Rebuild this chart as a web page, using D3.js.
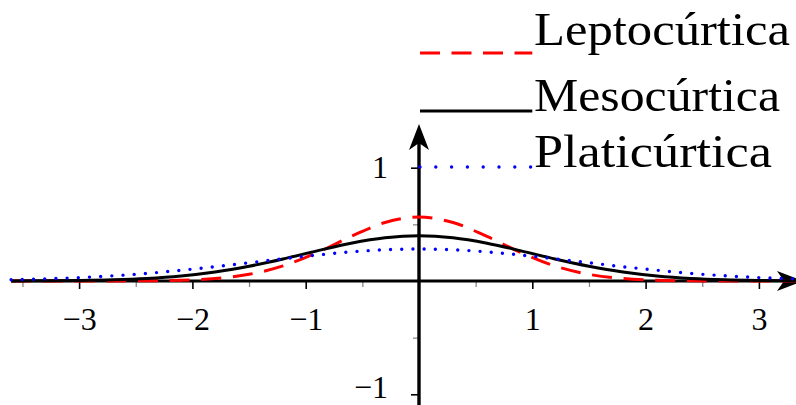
<!DOCTYPE html>
<html>
<head>
<meta charset="utf-8">
<script src="https://cdn.jsdelivr.net/npm/d3@7/dist/d3.min.js"></script>
<style>
  html, body { margin: 0; padding: 0; background: #fff; }
  svg { display: block; }
  text { font-family: "Liberation Serif", "DejaVu Serif", serif; fill: #000; }
</style>
</head>
<body>
<svg id="chart" width="796" height="405"></svg>
<script>
// Sample abscissas shared by the three density curves
const xs = [-3.6, -3.3, -3.0, -2.7, -2.4, -2.1, -1.8, -1.5, -1.2, -0.9, -0.6, -0.3,
            0, 0.3, 0.6, 0.9, 1.2, 1.5, 1.8, 2.1, 2.4, 2.7, 3.0, 3.3, 3.6];

// Density values for each curve at the abscissas above
const lepto = [0, 0, 0.0001, 0.0004, 0.0018, 0.0068, 0.022, 0.059, 0.133, 0.251, 0.393, 0.516,
               0.564, 0.516, 0.393, 0.251, 0.133, 0.059, 0.022, 0.0068, 0.0018, 0.0004, 0.0001, 0, 0];
const meso  = [0.0006, 0.0017, 0.0044, 0.010, 0.022, 0.044, 0.079, 0.130, 0.194, 0.266, 0.333, 0.381,
               0.399, 0.381, 0.333, 0.266, 0.194, 0.130, 0.079, 0.044, 0.022, 0.010, 0.0044, 0.0017, 0.0006];
const plati = [0.011, 0.019, 0.030, 0.046, 0.067, 0.095, 0.126, 0.161, 0.196, 0.229, 0.257, 0.276,
               0.282, 0.276, 0.257, 0.229, 0.196, 0.161, 0.126, 0.095, 0.067, 0.046, 0.030, 0.019, 0.011];

const seriesNames = ["Leptocúrtica", "Mesocúrtica", "Platicúrtica"];

// Tick values
const xMajor = [-3, -2, -1, 1, 2, 3];
const xMinor = [-3.5, -2.5, -1.5, -0.5, 0.5, 1.5, 2.5];
const yMajor = [-1, 1];
const yMinor = [-0.5, 0.5];

const svg = d3.select("#chart");
const unit = 113.3;
const x = d3.scaleLinear().domain([-3.6, 3.6]).range([419 - 3.6 * unit, 419 + 3.6 * unit]);
const y = d3.scaleLinear().domain([-1.1, 1.4]).range([281 + 1.1 * unit, 281 - 1.4 * unit]);

const fmt = v => (v < 0 ? "\u2212" : "") + Math.abs(v);

// Minor ticks (grey, short)
svg.append("g").attr("transform", `translate(0,${y(0)})`)
  .call(d3.axisBottom(x).tickValues(xMinor).tickSize(6).tickFormat(""))
  .call(g => g.select(".domain").remove())
  .call(g => g.selectAll("line").attr("stroke", "#888").attr("stroke-width", 1.3));
svg.append("g").attr("transform", `translate(${x(0)},0)`)
  .call(d3.axisLeft(y).tickValues(yMinor).tickSize(6).tickFormat(""))
  .call(g => g.select(".domain").remove())
  .call(g => g.selectAll("line").attr("stroke", "#888").attr("stroke-width", 1.3));

// Major ticks with labels
svg.append("g").attr("transform", `translate(0,${y(0)})`)
  .call(d3.axisBottom(x).tickValues(xMajor).tickSize(8).tickPadding(0).tickFormat(fmt))
  .call(g => g.select(".domain").remove())
  .call(g => g.selectAll("line").attr("stroke", "#000").attr("stroke-width", 1.6))
  .call(g => g.selectAll("text").attr("y", 49).attr("dy", 0)
      .style("font-size", "32px").style("font-family", "Liberation Serif, serif"));
svg.append("g").attr("transform", `translate(${x(0)},0)`)
  .call(d3.axisLeft(y).tickValues(yMajor).tickSize(8).tickPadding(0).tickFormat(fmt))
  .call(g => g.select(".domain").remove())
  .call(g => g.selectAll("line").attr("stroke", "#000").attr("stroke-width", 1.6))
  // the lowest label sits against the bottom edge, so keep it just inside
  .call(g => g.selectAll("text").attr("x", -31).attr("dy", d => d < 0 ? "0.1em" : "0.3em")
      .style("font-size", "32px").style("font-family", "Liberation Serif, serif"));

// Main axes with arrow heads
svg.append("line")
  .attr("x1", x(-3.6)).attr("x2", 790).attr("y1", y(0)).attr("y2", y(0))
  .attr("stroke", "#000").attr("stroke-width", 3.2);
svg.append("line")
  .attr("x1", x(0)).attr("x2", x(0)).attr("y1", y(-1.1)).attr("y2", 140)
  .attr("stroke", "#000").attr("stroke-width", 3.4);

function arrowHead(tipX, tipY, dir) {
  // dir: "right" or "up"; stealth-like head with a concave back
  const L = 26, W = 10, N = 7;
  let pts;
  if (dir === "right") {
    pts = [[tipX, tipY], [tipX - L, tipY - W], [tipX - L + N, tipY], [tipX - L, tipY + W]];
  } else {
    pts = [[tipX, tipY], [tipX + W, tipY + L], [tipX, tipY + L - N], [tipX - W, tipY + L]];
  }
  svg.append("path")
    .attr("d", "M" + pts.map(p => p.join(",")).join("L") + "Z")
    .attr("fill", "#000");
}
arrowHead(803, y(0), "right");
arrowHead(x(0), 124, "up");

// Density curves
const series = [
  { name: seriesNames[0], values: lepto, color: "#ff0000", dash: "20 11.7", cap: "butt", width: 3, legendDash: "20 11.5" },
  { name: seriesNames[1], values: meso,  color: "#000000", dash: null, cap: "butt", width: 3, legendDash: null },
  { name: seriesNames[2], values: plati, color: "#0000ff", dash: "0 11.2", cap: "round", width: 3.4, legendDash: "0 15.8" }
];

const line = d3.line()
  .x((d, i) => x(xs[i]))
  .y(d => y(d))
  .curve(d3.curveCatmullRom.alpha(0.5));

series.forEach(s => {
  svg.append("path")
    .datum(s.values)
    .attr("d", line)
    .attr("fill", "none")
    .attr("stroke", s.color)
    .attr("stroke-width", s.width)
    .attr("stroke-linecap", s.cap)
    .attr("stroke-dasharray", s.dash);
});

// Legend
const legendY = [53, 111, 167];
const legendW = [256, 246, 238];
series.forEach((s, i) => {
  svg.append("line")
    .attr("x1", x(0) + 1).attr("x2", x(1))
    .attr("y1", legendY[i]).attr("y2", legendY[i])
    .attr("stroke", s.color)
    .attr("stroke-width", s.width)
    .attr("stroke-linecap", s.cap)
    .attr("stroke-dasharray", s.legendDash);
  svg.append("text")
    .attr("x", 534).attr("y", [45, 111, 167][i])
    .attr("textLength", legendW[i])
    .attr("lengthAdjust", "spacingAndGlyphs")
    .style("font-size", "47px")
    .text(s.name);
});
</script>
</body>
</html>
